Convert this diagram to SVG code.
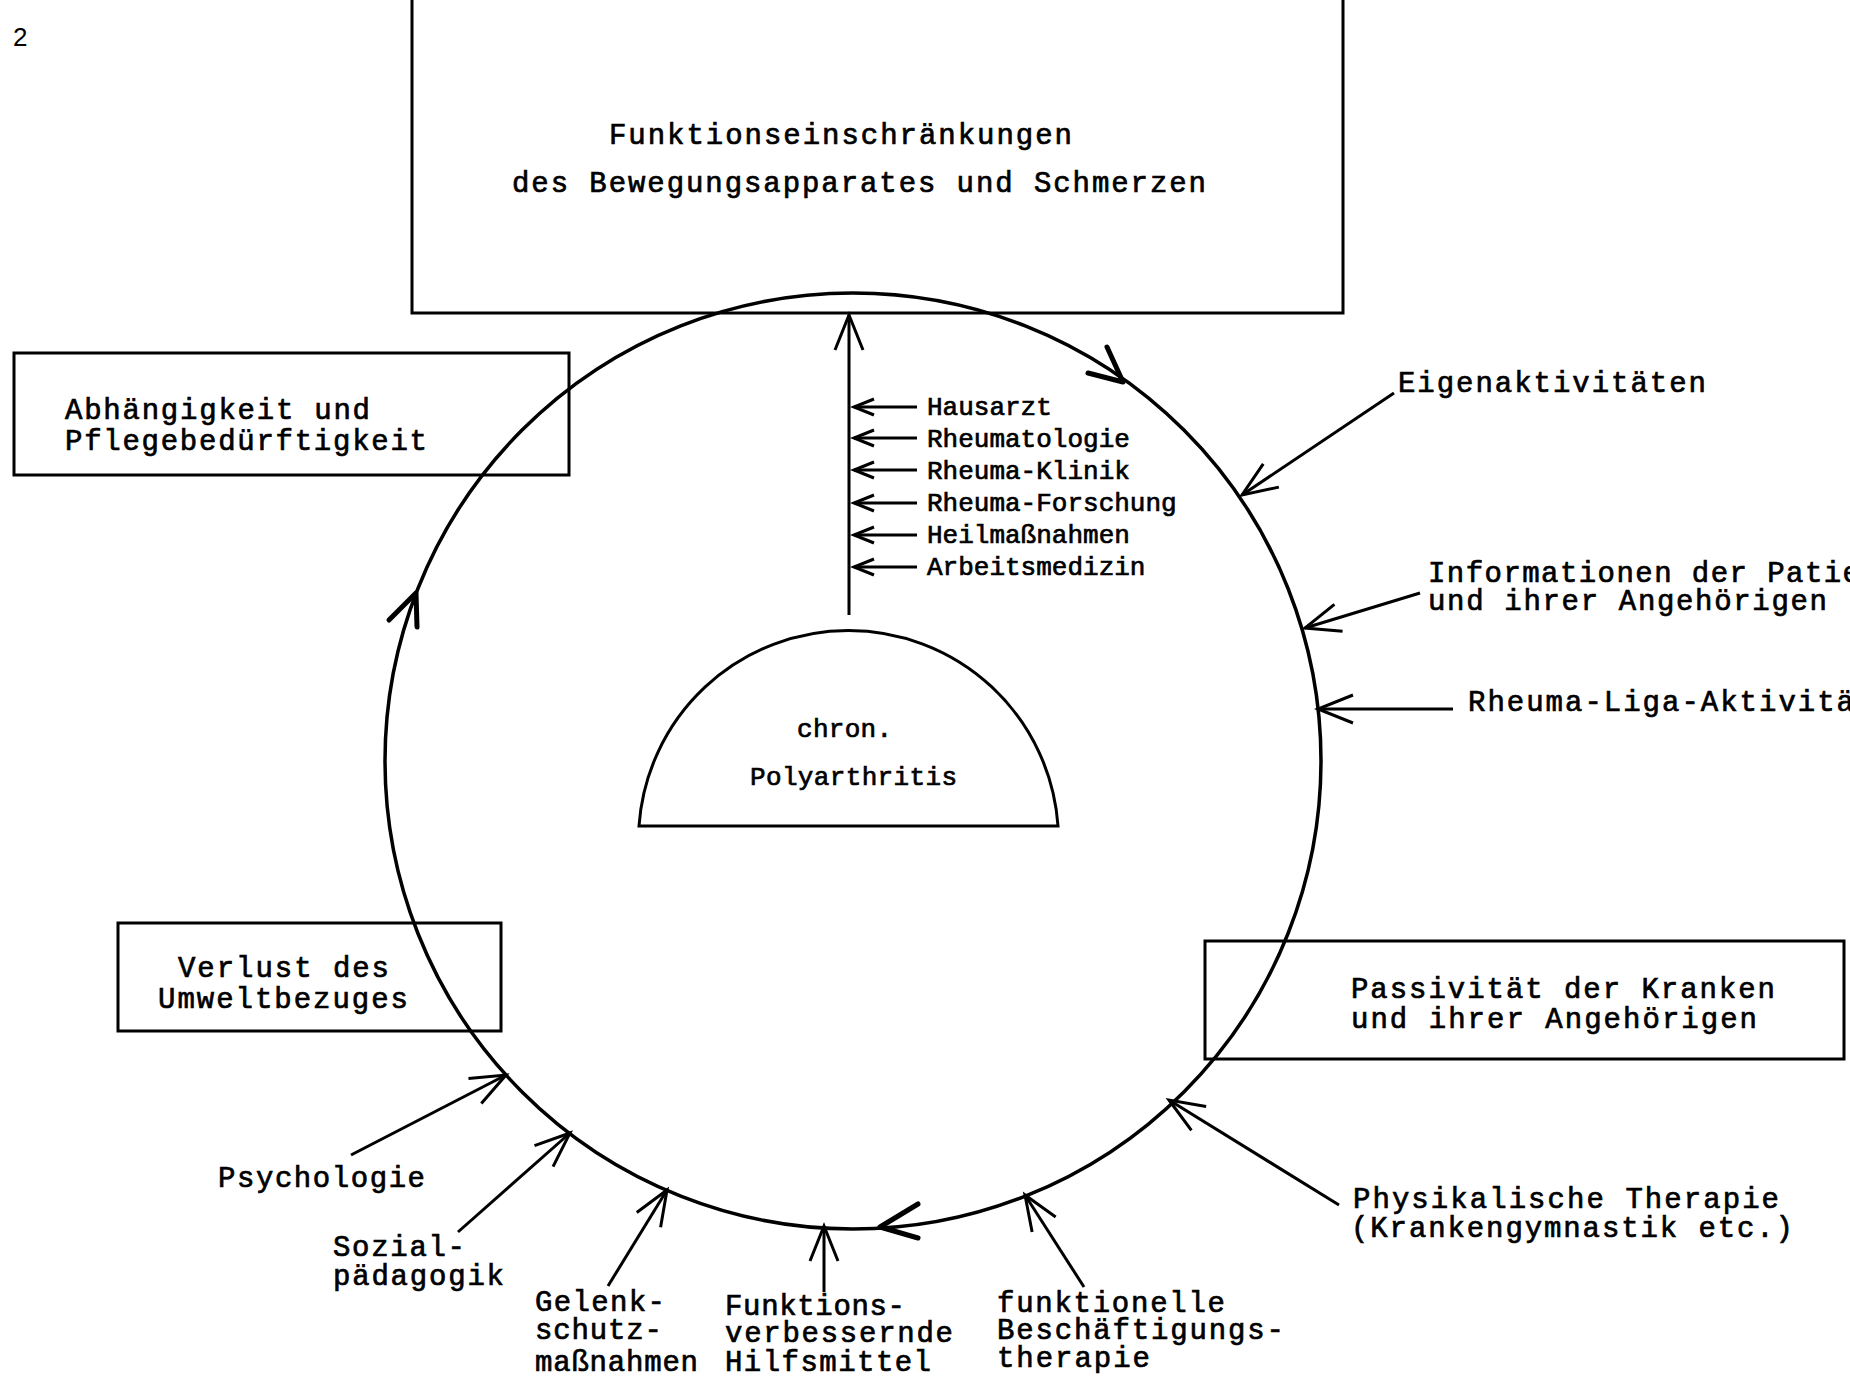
<svg xmlns="http://www.w3.org/2000/svg" width="1850" height="1381" viewBox="0 0 1850 1381">
<style>
.box{fill:none;stroke:#000;stroke-width:3}
.ring{fill:none;stroke:#000;stroke-width:3.5}
.ln{fill:none;stroke:#000;stroke-width:3}
.hd{fill:none;stroke:#000;stroke-width:5;stroke-linecap:round;stroke-linejoin:round}
.t{font-family:"Liberation Mono","DejaVu Sans Mono",monospace;font-size:29px;fill:#000;stroke:#000;stroke-width:0.7}
.s{font-family:"Liberation Mono","DejaVu Sans Mono",monospace;font-size:26px;fill:#000;stroke:#000;stroke-width:0.7}
</style>
<defs>
<marker id="arr" markerUnits="userSpaceOnUse" viewBox="-40 -20 44 40" refX="0" refY="0" markerWidth="44" markerHeight="40" orient="auto" overflow="visible">
<path d="M-35,-14 L0,0 L-35,14" fill="none" stroke="#000" stroke-width="3"/>
</marker>
<marker id="arrs" markerUnits="userSpaceOnUse" viewBox="-24 -12 28 24" refX="0" refY="0" markerWidth="28" markerHeight="24" orient="auto" overflow="visible">
<path d="M-20,-8 L0,0 L-20,8" fill="none" stroke="#000" stroke-width="3"/>
</marker>
</defs>
<rect width="1850" height="1381" fill="#fff"/>
<text x="13" y="46" style="font-family:'Liberation Sans',Arial,sans-serif;font-size:26px">2</text>

<g id="box-funktion">
<rect class="box" x="412" y="-5" width="931" height="318"/>
<text class="t" x="609" y="144" textLength="463" lengthAdjust="spacing">Funktionseinschränkungen</text>
<text class="t" x="512" y="192" textLength="694" lengthAdjust="spacing">des Bewegungsapparates und Schmerzen</text>
</g>

<g id="cycle">
<circle class="ring" cx="853" cy="761" r="468"/>
<polyline class="hd" points="1107,347 1123,382 1088,373"/>
<polyline class="hd" points="389,620 416,593 417,627"/>
<polyline class="hd" points="918,1204 880,1227 918,1238"/>
</g>

<g id="box-abhaengigkeit">
<rect class="box" x="14" y="353" width="555" height="122"/>
<text class="t" x="65" y="419" textLength="305" lengthAdjust="spacing">Abhängigkeit und</text>
<text class="t" x="65" y="450" textLength="362" lengthAdjust="spacing">Pflegebedürftigkeit</text>
</g>

<g id="box-verlust">
<rect class="box" x="118" y="923" width="383" height="108"/>
<text class="t" x="178" y="977" textLength="211" lengthAdjust="spacing">Verlust des</text>
<text class="t" x="158" y="1008" textLength="250" lengthAdjust="spacing">Umweltbezuges</text>
</g>

<g id="box-passivitaet">
<rect class="box" x="1205" y="941" width="639" height="118"/>
<text class="t" x="1351" y="998" textLength="424" lengthAdjust="spacing">Passivität der Kranken</text>
<text class="t" x="1351" y="1028" textLength="406" lengthAdjust="spacing">und ihrer Angehörigen</text>
</g>

<g id="node-polyarthritis">
<path class="box" d="M639,826 A210,210 0 0 1 1058,826 Z"/>
<text class="s" x="797" y="737" textLength="95" lengthAdjust="spacing">chron.</text>
<text class="s" x="750" y="785" textLength="207" lengthAdjust="spacing">Polyarthritis</text>
</g>

<g id="labels-medizin">
<text class="s" x="927" y="415">Hausarzt</text>
<text class="s" x="927" y="447">Rheumatologie</text>
<text class="s" x="927" y="479">Rheuma-Klinik</text>
<text class="s" x="927" y="511">Rheuma-Forschung</text>
<text class="s" x="927" y="543">Heilmaßnahmen</text>
<text class="s" x="927" y="575">Arbeitsmedizin</text>
</g>

<g id="label-eigen"><text class="t" x="1398" y="392" textLength="308" lengthAdjust="spacing">Eigenaktivitäten</text></g>
<g id="label-info">
<text class="t" x="1428" y="582" textLength="432" lengthAdjust="spacing">Informationen der Patie</text>
<text class="t" x="1428" y="610" textLength="399" lengthAdjust="spacing">und ihrer Angehörigen</text>
</g>
<g id="label-liga"><text class="t" x="1468" y="711" textLength="386" lengthAdjust="spacing">Rheuma-Liga-Aktivitä</text></g>
<g id="label-phys">
<text class="t" x="1353" y="1208" textLength="426" lengthAdjust="spacing">Physikalische Therapie</text>
<text class="t" x="1351" y="1237" textLength="442" lengthAdjust="spacing">(Krankengymnastik etc.)</text>
</g>
<g id="label-psych"><text class="t" x="218" y="1187" textLength="207" lengthAdjust="spacing">Psychologie</text></g>
<g id="label-sozial">
<text class="t" x="333" y="1256" textLength="132" lengthAdjust="spacing">Sozial-</text>
<text class="t" x="333" y="1285" textLength="171" lengthAdjust="spacing">pädagogik</text>
</g>
<g id="label-gelenk">
<text class="t" x="535" y="1311" textLength="130" lengthAdjust="spacing">Gelenk-</text>
<text class="t" x="535" y="1339" textLength="127" lengthAdjust="spacing">schutz-</text>
<text class="t" x="535" y="1371" textLength="163" lengthAdjust="spacing">maßnahmen</text>
</g>
<g id="label-hilfsmittel">
<text class="t" x="725" y="1315" textLength="180" lengthAdjust="spacing">Funktions-</text>
<text class="t" x="725" y="1342" textLength="228" lengthAdjust="spacing">verbessernde</text>
<text class="t" x="725" y="1371" textLength="206" lengthAdjust="spacing">Hilfsmittel</text>
</g>
<g id="label-ergo">
<text class="t" x="997" y="1312" textLength="228" lengthAdjust="spacing">funktionelle</text>
<text class="t" x="997" y="1339" textLength="287" lengthAdjust="spacing">Beschäftigungs-</text>
<text class="t" x="997" y="1367" textLength="153" lengthAdjust="spacing">therapie</text>
</g>

<g id="connectors">
<line class="ln" x1="849" y1="615" x2="849" y2="315" marker-end="url(#arr)"/>
<line class="ln" x1="917" y1="407" x2="854" y2="407" marker-end="url(#arrs)"/>
<line class="ln" x1="917" y1="438" x2="854" y2="438" marker-end="url(#arrs)"/>
<line class="ln" x1="917" y1="470" x2="854" y2="470" marker-end="url(#arrs)"/>
<line class="ln" x1="917" y1="503" x2="854" y2="503" marker-end="url(#arrs)"/>
<line class="ln" x1="917" y1="535" x2="854" y2="535" marker-end="url(#arrs)"/>
<line class="ln" x1="917" y1="567" x2="854" y2="567" marker-end="url(#arrs)"/>
<line class="ln" x1="1394" y1="393" x2="1242" y2="495" marker-end="url(#arr)"/>
<line class="ln" x1="1420" y1="593" x2="1305" y2="628" marker-end="url(#arr)"/>
<line class="ln" x1="1453" y1="709" x2="1318" y2="709" marker-end="url(#arr)"/>
<line class="ln" x1="1339" y1="1205" x2="1169" y2="1100" marker-end="url(#arr)"/>
<line class="ln" x1="1084" y1="1287" x2="1025" y2="1195" marker-end="url(#arr)"/>
<line class="ln" x1="824" y1="1292" x2="824" y2="1226" marker-end="url(#arr)"/>
<line class="ln" x1="608" y1="1286" x2="667" y2="1190" marker-end="url(#arr)"/>
<line class="ln" x1="458" y1="1232" x2="570" y2="1133" marker-end="url(#arr)"/>
<line class="ln" x1="351" y1="1155" x2="506" y2="1075" marker-end="url(#arr)"/>
</g>
</svg>
